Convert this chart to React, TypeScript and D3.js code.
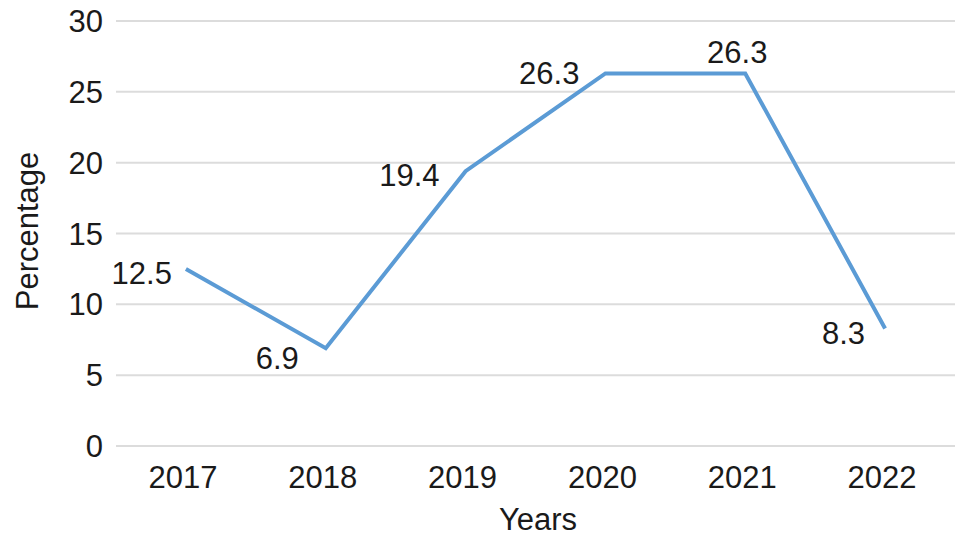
import React from "react";
import * as d3 from "d3";

const years = ["2017", "2018", "2019", "2020", "2021", "2022"];
const percentages = [12.5, 6.9, 19.4, 26.3, 26.3, 8.3];
const yTicks = [0, 5, 10, 15, 20, 25, 30];
// label placement relative to each point: [dx, dy, anchor]
const labelPlacement: [number, number, string][] = [
  [-14, 4, "end"],
  [-27, 10, "end"],
  [-26, 4, "end"],
  [-26, -1, "end"],
  [-8, -22, "middle"],
  [-20, 4, "end"],
];

const W = 969;
const H = 544;
const margin = { left: 116, right: 14, top: 21, bottom: 98 };
const FONT = "'Liberation Sans', Arial, Helvetica, sans-serif";

export default function App() {
  const x = d3
    .scaleBand<string>()
    .domain(years)
    .range([margin.left, W - margin.right])
    .padding(0);
  const y = d3
    .scaleLinear()
    .domain([0, 30])
    .range([H - margin.bottom, margin.top]);
  const cx = (i: number) => (x(years[i]) as number) + x.bandwidth() / 2;
  const line = d3
    .line<number>()
    .x((_, i) => cx(i))
    .y((d) => y(d));

  return (
    <svg
      width={W}
      height={H}
      style={{ position: "absolute", left: 0, top: 0, background: "#fff" }}
      fontFamily={FONT}
    >
      {yTicks.map((t) => (
        <g key={t}>
          <line
            x1={margin.left}
            x2={W - margin.right}
            y1={y(t)}
            y2={y(t)}
            stroke="#dcdcdc"
            strokeWidth={2}
          />
          <text
            x={103}
            y={y(t)}
            dy="0.36em"
            textAnchor="end"
            fontSize={31}
            fill="#1a1a1a"
          >
            {t}
          </text>
        </g>
      ))}
      {years.map((yr, i) => (
        <text
          key={yr}
          x={cx(i) - 3}
          y={488}
          textAnchor="middle"
          fontSize={31}
          fill="#1a1a1a"
        >
          {yr}
        </text>
      ))}
      <path
        d={line(percentages) || ""}
        fill="none"
        stroke="#5b9bd5"
        strokeWidth={4}
        strokeLinejoin="miter"
      />
      {percentages.map((v, i) => {
        const [dx, dy, anchor] = labelPlacement[i];
        return (
          <text
            key={i}
            x={cx(i) + dx}
            y={y(v) + dy}
            dy="0.36em"
            textAnchor={anchor as any}
            fontSize={31}
            fill="#1a1a1a"
          >
            {v.toFixed(1)}
          </text>
        );
      })}
      <text
        x={538}
        y={530}
        textAnchor="middle"
        fontSize={31}
        fill="#1a1a1a"
      >
        Years
      </text>
      <text
        transform={`translate(38, 231) rotate(-90)`}
        textAnchor="middle"
        fontSize={31}
        fill="#1a1a1a"
      >
        Percentage
      </text>
    </svg>
  );
}
